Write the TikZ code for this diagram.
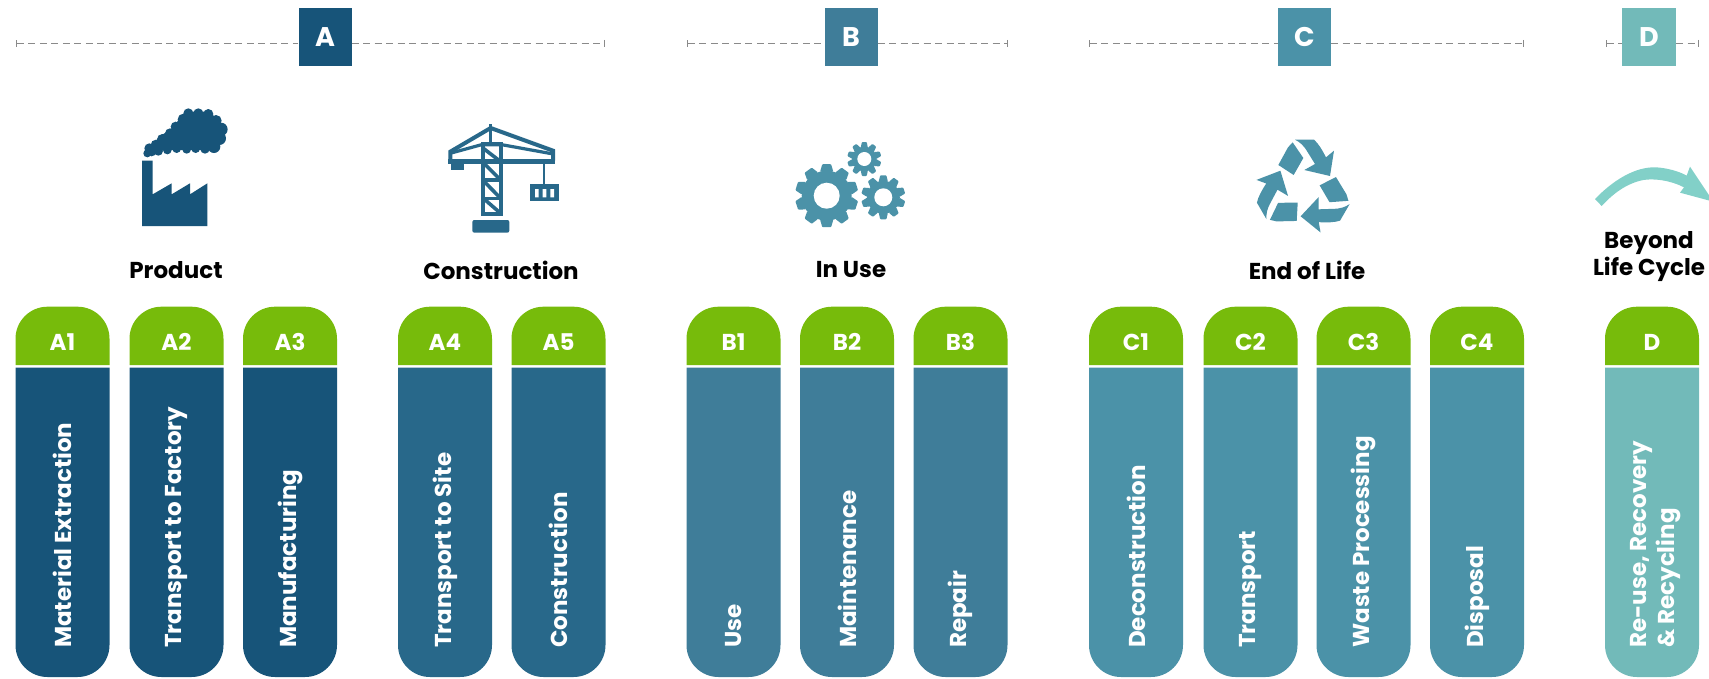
\documentclass[tikz,border=0pt]{standalone}
\usepackage{fontspec}
\setmainfont{Poppins}
\usetikzlibrary{arrows.meta}
\definecolor{colA}{HTML}{175479}
\definecolor{colAb}{HTML}{28688A}
\definecolor{colB}{HTML}{3F7D99}
\definecolor{colC}{HTML}{4B92A8}
\definecolor{colD}{HTML}{72BAB9}
\definecolor{colG}{HTML}{77BB0B}
\definecolor{colArc}{HTML}{82D0C8}
\definecolor{colLine}{HTML}{8A8A8A}
\tikzset{
  headbox/.style={inner sep=0pt,text=white,font=\bfseries\fontsize{27}{27}\selectfont},
  dashline/.style={draw=colLine,line width=1pt,dash pattern=on 7pt off 4.5pt,{Bar[width=7pt,length=1pt]}-},
  dashliner/.style={draw=colLine,line width=1pt,dash pattern=on 7pt off 4.5pt,-{Bar[width=7pt,length=1pt]}},
  grouplabel/.style={inner sep=0pt,text=black,align=center,font=\bfseries\fontsize{23}{27}\selectfont},
  pilltop/.style={inner sep=0pt,text=white,font=\bfseries\fontsize{23}{23}\selectfont},
  pilltext/.style={inner sep=0pt,text=white,rotate=90,anchor=west,align=left,font=\bfseries\fontsize{23}{28}\selectfont},
}
\newcommand{\mypill}[6]{% x, colour, top label, body text, name, text x offset
  \fill[colG] (#1,365) [rounded corners=32pt] -- (#1,306.7) -- ({#1+94},306.7) [sharp corners] -- ({#1+94},365) -- cycle;
  \fill[#2] (#1,367.5) -- ({#1+94},367.5) [rounded corners=32pt] -- ({#1+94},677) -- (#1,677) [sharp corners] -- cycle;
  \node[pilltop] (top#5) at ({#1+47},342) {#3};
  \node[pilltext] (txt#5) at ({#1+47+#6},648) {#4};
}
\newcommand{\mygear}[6]{% cx, cy, outer, root, hole, colour
  \fill[#6] (#1,#2) circle[radius=#4];
  \foreach \a in {0,36,...,324}{
    \fill[#6,rotate around={\a:(#1,#2)},rounded corners=.8pt]
      ({#1-0.21*#3},{#2-#4+1}) -- ({#1-0.14*#3},{#2-#3}) -- ({#1+0.14*#3},{#2-#3}) -- ({#1+0.21*#3},{#2-#4+1}) -- cycle;
  }
  \fill[white] (#1,#2) circle[radius=#5];
}
\begin{document}
\begin{tikzpicture}[x=1pt,y=-1pt]
\useasboundingbox (0,0) rectangle (1709,678);
\fill[white] (0,0) rectangle (1709,678);

% headers
\node[headbox,fill=colA,minimum width=53pt,minimum height=58pt] (hA) at (325,37) {A};
\node[headbox,fill=colB,minimum width=53pt,minimum height=58pt] (hB) at (851,37) {B};
\node[headbox,fill=colC,minimum width=53pt,minimum height=58pt] (hC) at (1304.5,37) {C};
\node[headbox,fill=colD,minimum width=54pt,minimum height=58pt] (hD) at (1649,37) {D};
\coordinate (aL) at (16,43.3); \coordinate (aR) at (605,43.3);
\coordinate (bL) at (687,43.3); \coordinate (bR) at (1008,43.3);
\coordinate (cL) at (1089,43.3); \coordinate (cR) at (1524,43.3);
\coordinate (dL) at (1606,43.3); \coordinate (dR) at (1699,43.3);
\foreach \n/\l/\r in {hA/aL/aR,hB/bL/bR,hC/cL/cR,hD/dL/dR}{
  \draw[dashline] (\l) -- (\l -| \n.west);
  \draw[dashliner] (\r -| \n.east) -- (\r);
}

% factory
\begin{scope}[shift={(130,100)},x=.33333pt,y=-.33333pt]
\fill[colA] (36,182) -- (68,182) -- (68,283) -- (125,250) -- (125,283) -- (180,250) -- (180,283) -- (232,250) -- (232,378) -- (36,378) -- cycle;
\fill[colA] (60,150) -- (75,125) -- (95,105) -- (120,90) -- (150,55) -- (175,35) -- (240,35) -- (280,80) -- (285,110) -- (255,150) -- (100,150) -- cycle;
\foreach \cx/\cy/\rr in {52/160/12,58/145/15,78/135/16,97/118/16,120/100/15,137/80/15,160/58/17,175/40/15,205/40/15,235/42/15,258/62/17,273/88/20,268/115/20,252/140/19,225/147/14,197/146/13,170/148/13,140/146/13,112/150/13,85/153/14,65/155/14}{
  \fill[colA] (\cx,\cy) circle[radius=\rr];
}
\end{scope}

% crane
\begin{scope}[shift={(440,120)},x=.33333pt,y=-.33333pt,colAb]
\draw[line width=4pt,line join=miter] (31,122) -- (31,95) -- (152,24) -- (339,92) -- (339,122);
\draw[line width=3.2pt] (30,100) -- (125,74) -- (185,74) -- (340,102);
\draw[line width=3.4pt] (152,12) -- (152,72);
\fill (25,116) rectangle (345,131);
\fill (32,131) rectangle (72,150);
\draw[line width=4pt] (128,72) rectangle (182,282);
\draw[line width=3.4pt] (125,180) -- (185,180) (125,235) -- (185,235);
\draw[line width=3.6pt] (130,85) -- (182,125) (130,128) -- (182,180) (130,182) -- (182,235) (130,235) -- (182,280);
\fill[rounded corners=2pt] (97,300) rectangle (208,338);
\draw[line width=2.2pt] (312,131) -- (312,192);
\fill (270,192) rectangle (358,244);
\fill[white] (285,207) rectangle (296,232) (308,207) rectangle (319,232) (331,207) rectangle (342,232);
\end{scope}

% gears
\mygear{826.7}{195.7}{31.5}{25}{13}{colC}
\mygear{883.3}{197.3}{22}{16.5}{9}{colC}
\mygear{864.3}{159}{17}{12.5}{7}{colC}

% recycle
\begin{scope}[shift={(1250,130)},x=.33333pt,y=-.33333pt]
\foreach \r in {0,-120,-240}{
  \begin{scope}[rotate around={\r:(161,173)}]
  \fill[colC] (135,29) -- (192,29) .. controls (205,40) and (218,62) .. (228,82) -- (252,62) -- (240,138) -- (163,120) -- (195,102) -- (172,65) .. controls (160,45) and (150,37) .. (135,29) -- cycle;
  \fill[colC] (128,37) -- (160,84) -- (131,135) -- (85,105) -- (114,52) -- cycle;
  \end{scope}
}
\end{scope}

% beyond arrow
\begin{scope}[shift={(1220,0)},x=.33333pt,y=-.33333pt]
\clip (1000,400) rectangle (1467,700);
\fill[colArc] (1125,597) .. controls (1190,530) and (1260,495) .. (1320,503) .. controls (1355,507) and (1385,518) .. (1400,527)
  -- (1410,500) -- (1480,605) -- (1380,578) -- (1392,562) .. controls (1350,540) and (1300,535) .. (1270,540) .. controls (1220,550) and (1180,580) .. (1145,618) -- cycle;
\end{scope}

% group labels
\node[grouplabel] (lProd) at (176,270) {Product};
\node[grouplabel] (lCons) at (501,270) {Construction};
\node[grouplabel] (lUse)  at (851,270) {In Use};
\node[grouplabel] (lEnd)  at (1307,270) {End of Life};
\node[grouplabel] (lBey)  at (1649,257) {Beyond\\Life Cycle};

% pills
\mypill{15.5}{colA}{A1}{Material Extraction}{Aa}{0}
\mypill{129.5}{colA}{A2}{Transport to Factory}{Ab}{0}
\mypill{243}{colA}{A3}{Manufacturing}{Ac}{0}
\mypill{398}{colAb}{A4}{Transport to Site}{Ad}{0}
\mypill{511.5}{colAb}{A5}{Construction}{Ae}{0}
\mypill{686.5}{colB}{B1}{Use}{Ba}{0}
\mypill{800}{colB}{B2}{Maintenance}{Bb}{0}
\mypill{913.5}{colB}{B3}{Repair}{Bc}{0}
\mypill{1089}{colC}{C1}{Deconstruction}{Ca}{0}
\mypill{1203.5}{colC}{C2}{Transport}{Cb}{0}
\mypill{1316.5}{colC}{C3}{Waste Processing}{Cc}{0}
\mypill{1430}{colC}{C4}{Disposal}{Cd}{0}
\mypill{1605}{colD}{D}{Re-use, Recovery\\\& Recycling}{Da}{4}
\end{tikzpicture}
\end{document}
